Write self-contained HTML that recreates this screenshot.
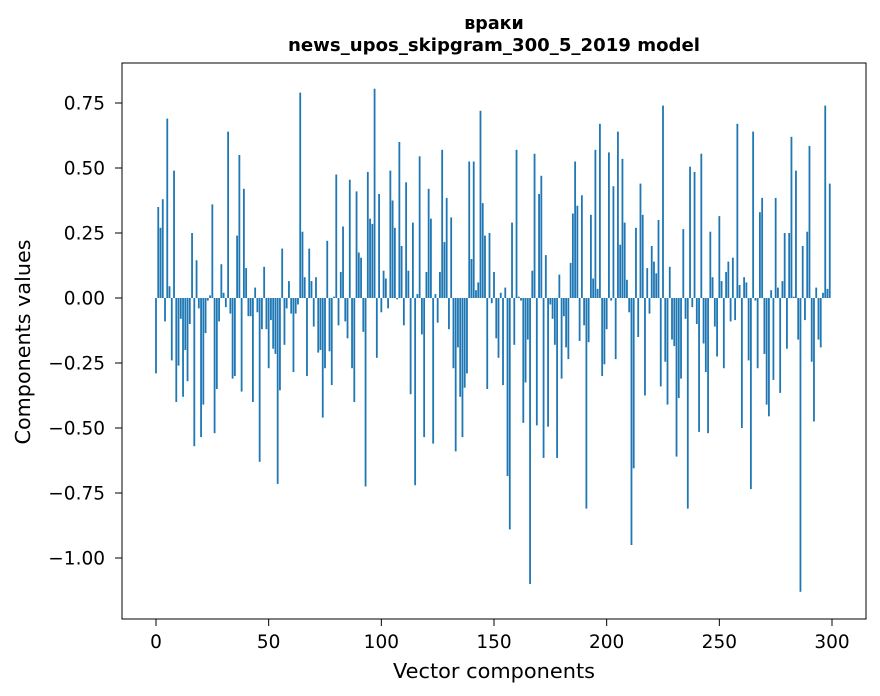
<!DOCTYPE html>
<html><head><meta charset="utf-8"><style>
html,body{margin:0;padding:0;background:#fff;}
svg{display:block;font-family:"DejaVu Sans","Liberation Sans",sans-serif;}
</style></head><body>
<svg id="chart" width="880" height="696" viewBox="0 0 880 696" xmlns="http://www.w3.org/2000/svg">
<rect width="880" height="696" fill="#fff"/>
<text x="494" y="29" text-anchor="middle" font-size="17.5" font-weight="bold">враки</text>
<text x="494" y="51" text-anchor="middle" font-size="17.5" font-weight="bold" textLength="412" lengthAdjust="spacingAndGlyphs">news_upos_skipgram_300_5_2019 model</text>
<g id="bars"></g>
<g id="xticks"></g>
<g id="yticks"></g>
<rect x="122" y="63" width="744" height="556" fill="none" stroke="#000" stroke-width="1"/>
<text x="494" y="678" text-anchor="middle" font-size="20" textLength="202" lengthAdjust="spacingAndGlyphs">Vector components</text>
<text transform="translate(30,342) rotate(-90)" text-anchor="middle" font-size="20" textLength="205" lengthAdjust="spacingAndGlyphs">Components values</text>
</svg>
<script>
const values = [
-0.29,0.35,0.27,0.38,-0.09,0.69,0.045,-0.24,0.49,-0.40,
-0.26,-0.08,-0.38,-0.20,-0.32,-0.10,0.25,-0.57,0.145,-0.04,
-0.535,-0.41,-0.135,-0.01,0.01,0.36,-0.52,-0.35,-0.09,0.13,
0.02,-0.035,0.64,-0.06,-0.31,-0.30,0.24,0.55,-0.36,0.42,
0.115,-0.07,-0.07,-0.40,0.04,-0.055,-0.63,-0.12,0.12,-0.12,
-0.27,-0.085,-0.195,-0.215,-0.715,-0.355,0.19,-0.18,-0.04,0.065,
-0.06,-0.285,-0.06,-0.025,0.79,0.255,0.08,-0.30,0.19,0.065,
-0.11,0.08,-0.21,-0.20,-0.46,-0.27,0.22,-0.205,-0.335,0.005,
0.475,-0.105,0.10,0.275,-0.09,-0.155,0.455,-0.27,-0.40,0.41,
0.175,0.155,-0.13,-0.725,0.485,0.305,0.285,0.805,-0.23,0.40,
-0.055,0.105,0.075,-0.04,0.49,0.375,0.27,-0.005,0.60,0.20,
-0.105,0.445,0.105,-0.37,0.29,-0.72,0.015,0.545,-0.14,-0.535,
0.10,0.42,0.305,-0.56,0.015,-0.095,0.10,0.57,0.215,0.385,
-0.12,0.31,-0.27,-0.59,-0.19,-0.38,-0.535,-0.345,-0.29,0.525,
0.15,0.525,0.03,0.06,0.72,0.365,0.24,-0.35,0.25,-0.02,
0.10,-0.155,-0.23,0.02,-0.335,0.04,-0.685,-0.89,0.29,-0.18,
0.57,0.005,-0.01,-0.48,-0.325,-0.16,-1.10,0.105,0.555,-0.49,
0.40,0.47,-0.615,0.165,-0.495,-0.025,-0.08,-0.18,-0.615,0.09,
-0.31,-0.07,-0.19,-0.235,0.135,0.325,0.525,0.355,-0.165,0.395,
-0.105,-0.81,-0.17,0.32,0.075,0.57,0.035,0.67,-0.30,-0.255,
-0.12,0.56,-0.01,0.43,-0.235,0.64,0.205,0.535,0.29,0.07,
-0.055,-0.95,-0.655,0.27,-0.15,0.44,0.32,-0.375,0.115,-0.06,
0.20,0.14,0.095,0.30,-0.34,0.74,-0.245,-0.41,0.12,-0.16,
-0.185,-0.61,-0.385,-0.31,0.265,-0.08,-0.81,0.505,-0.035,0.485,
-0.10,-0.515,0.555,-0.175,-0.285,-0.52,0.255,0.08,-0.11,-0.225,
0.315,0.065,-0.27,0.10,0.14,-0.09,0.155,-0.085,0.67,0.05,
-0.50,0.08,0.06,-0.24,-0.735,0.64,-0.01,-0.27,0.33,0.385,
-0.215,-0.41,-0.455,0.03,-0.315,0.385,0.04,-0.365,0.065,0.25,
-0.195,0.25,0.62,0.005,0.49,-0.16,-1.13,0.20,-0.085,0.255,
0.585,-0.245,-0.475,0.04,-0.16,-0.19,0.02,0.74,0.035,0.44
];
const xTickValues = [0,50,100,150,200,250,300];
const yTickValues = [-1.0,-0.75,-0.5,-0.25,0,0.25,0.5,0.75];
const yTickLabels = ["\u22121.00","\u22120.75","\u22120.50","\u22120.25","0.00","0.25","0.50","0.75"];

const NS = "http://www.w3.org/2000/svg";
function xScale(v){ return 156 + (v) * (676/300); }
function yScale(v){ return 298 - v * 260; }

const barsG = document.getElementById('bars');
const bw = 0.8 * (676/300);
values.forEach((v,i)=>{
  const r = document.createElementNS(NS,'rect');
  const y0 = yScale(0), y1 = yScale(v);
  r.setAttribute('x', xScale(i) - bw/2);
  r.setAttribute('y', Math.min(y0,y1));
  r.setAttribute('width', bw);
  r.setAttribute('height', Math.max(Math.abs(y1-y0), 0.3));
  r.setAttribute('fill', '#1f77b4');
  
  
  barsG.appendChild(r);
});

const xg = document.getElementById('xticks');
xTickValues.forEach(t=>{
  const x = xScale(t);
  const l = document.createElementNS(NS,'line');
  l.setAttribute('x1',x); l.setAttribute('x2',x);
  l.setAttribute('y1',619); l.setAttribute('y2',626);
  l.setAttribute('stroke','#000');
  
  
  xg.appendChild(l);
  const tx = document.createElementNS(NS,'text');
  tx.setAttribute('x',x); tx.setAttribute('y',648);
  tx.setAttribute('text-anchor','middle');
  tx.setAttribute('font-size','18.5');
  tx.textContent = String(t);
  
  
  xg.appendChild(tx);
});

const yg = document.getElementById('yticks');
yTickValues.forEach((t,i)=>{
  const y = yScale(t);
  const l = document.createElementNS(NS,'line');
  l.setAttribute('x1',115); l.setAttribute('x2',122);
  l.setAttribute('y1',y); l.setAttribute('y2',y);
  l.setAttribute('stroke','#000');
  
  
  yg.appendChild(l);
  const tx = document.createElementNS(NS,'text');
  tx.setAttribute('x',105); tx.setAttribute('y',y+6.5);
  tx.setAttribute('text-anchor','end');
  tx.setAttribute('font-size','18.5');
  tx.textContent = yTickLabels[i];
  
  
  yg.appendChild(tx);
});
</script>
</body></html>
